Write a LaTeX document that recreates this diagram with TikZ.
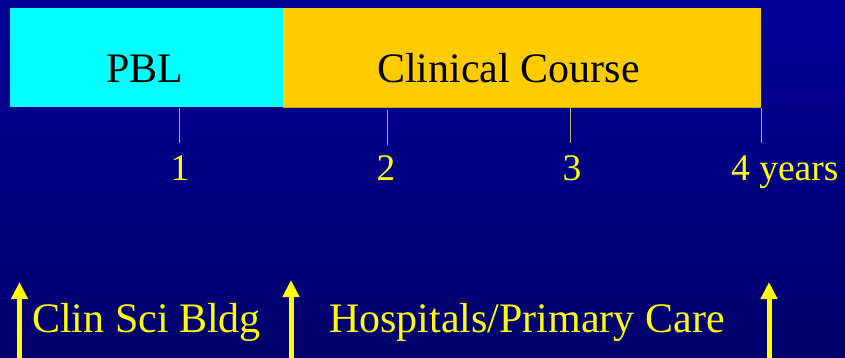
\documentclass[tikz,border=0pt]{standalone}
\usepackage{fontspec}
\setmainfont{Liberation Serif}
\usetikzlibrary{arrows.meta}
\definecolor{bgtop}{HTML}{000099}
\definecolor{bgbot}{HTML}{00006A}
\definecolor{pblc}{HTML}{00FFFF}
\definecolor{clinc}{HTML}{FFCC00}
\definecolor{tickc}{HTML}{B4B478}
\definecolor{txty}{HTML}{FFFF00}
\begin{document}
\begin{tikzpicture}[x=1pt,y=-1pt,
  bar/.style={rectangle, inner sep=0pt, outer sep=0pt},
  big/.style={inner sep=0pt, anchor=base, font=\fontsize{42}{50}\selectfont},
  num/.style={inner sep=0pt, anchor=base, text=txty, font=\fontsize{37.5}{45}\selectfont},
  tickline/.style={draw=tickc, line width=0.9pt},
  uparrow/.style={draw=txty, line width=5pt, -{Triangle[length=17pt,width=16pt]}}]
\useasboundingbox (0,0) rectangle (845,358);
\shade[top color=bgtop, bottom color=bgbot] (0,0) rectangle (845,358);
% bars
\node[bar, fill=pblc, minimum width=273pt, minimum height=99pt] (pblbox) at (146.5,57.8) {};
\node[bar, fill=clinc, minimum width=478pt, minimum height=99pt] (clinbox) at (522,57.8) {};
\draw[clinc!80!black, line width=0.6pt] (clinbox.south west) -- (clinbox.south east);
\node[big] (pbl) at (145,83) {PBL};
\node[big] (clin) at (508.5,83) {Clinical Course};
% ticks
\coordinate (t1a) at (179.5,108); \coordinate (t1b) at (179.5,143);
\coordinate (t2a) at (387,110); \coordinate (t2b) at (387,145);
\coordinate (t3a) at (570.5,108); \coordinate (t3b) at (570.5,143);
\coordinate (t4a) at (761,108); \coordinate (t4b) at (761,143);
\draw[tickline] (t1a) -- (t1b);
\draw[tickline] (t2a) -- (t2b);
\draw[tickline] (t3a) -- (t3b);
\draw[tickline] (t4a) -- (t4b);
\node[num] (n1) at (180,181) {1};
\node[num] (n2) at (386,181) {2};
\node[num] (n3) at (572,181) {3};
\node[num, anchor=base west] (n4) at (731,181) {4 years};
% bottom labels
\node[big, anchor=base west, text=txty] (cs) at (32,332) {Clin Sci Bldg};
\node[big, anchor=base west, text=txty] (hp) at (329,332) {Hospitals/Primary Care};
% arrows
\coordinate (a1s) at (19.5,360); \coordinate (a1t) at (19.5,282);
\coordinate (a2s) at (291,360); \coordinate (a2t) at (291,280);
\coordinate (a3s) at (769,360); \coordinate (a3t) at (769,282);
\draw[uparrow] (a1s) -- (a1t);
\draw[uparrow] (a2s) -- (a2t);
\draw[uparrow] (a3s) -- (a3t);
\end{tikzpicture}
\end{document}
